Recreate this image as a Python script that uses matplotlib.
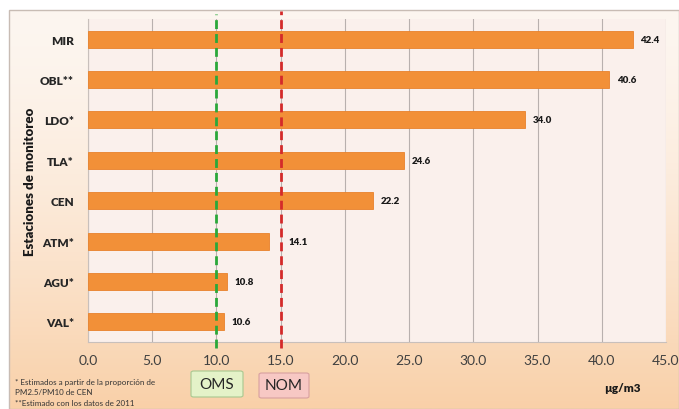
import numpy as np
import matplotlib.pyplot as plt
from matplotlib.patches import FancyBboxPatch, Rectangle

plt.rcParams['font.family'] = ['Lato', 'DejaVu Sans']

# PM2.5 annual average per monitoring station
estaciones = ['MIR', 'OBL**', 'LDO*', 'TLA*', 'CEN', 'ATM*', 'AGU*', 'VAL*']
valores = [42.4, 40.6, 34.0, 24.6, 22.2, 14.1, 10.8, 10.6]
limite_oms = 10.0
limite_nom = 15.0
xticks = np.arange(0, 50, 5)

fig = plt.figure(figsize=(6.79, 4.10), dpi=100)
fig.patch.set_facecolor('white')

# peach gradient panel behind everything
bg = fig.add_axes([9 / 679, 0, 1 - 9 / 679, 1 - 11 / 410])
grad = np.linspace(0, 1, 256).reshape(-1, 1)
top = np.array([253, 246, 240]) / 255
bottom = np.array([249, 208, 168]) / 255
img = top + (bottom - top) * grad[..., None] ** 1.5
bg.imshow(img, aspect='auto', extent=[0, 1, 0, 1], origin='upper')
bg.set_axis_off()
bg.add_patch(Rectangle((0, 0), 1, 1, transform=bg.transAxes, fill=False,
                       edgecolor='#c8bcb4', lw=1.0, clip_on=False))

ax = fig.add_axes([88 / 679, 1 - 343 / 410, (666 - 88) / 679, (343 - 20) / 410])
ax.set_facecolor('#faf0ec')

y = np.arange(len(estaciones))
bars = ax.barh(y, valores, height=0.42, color='#f29038', edgecolor='#e8822c', lw=0.6, zorder=3)
ax.set_ylim(len(estaciones) - 0.5, -0.5)
ax.set_xlim(0, 45)

for rect, v in zip(bars, valores):
    xl = v + 0.6
    # keep the label clear of the NOM line
    if v < limite_nom < v + 2.5:
        xl = limite_nom + 0.6
    ax.text(xl, rect.get_y() + rect.get_height() / 2, '%.1f' % v,
            va='center', ha='left', fontsize=7, fontweight='heavy', color='#1a1a1a')

# reference limits
ax.plot([limite_oms, limite_oms], [-0.02, 1.015], transform=ax.get_xaxis_transform(),
        color='#2aa83a', lw=2, ls=(0, (3.2, 1.8)), clip_on=False, zorder=4)
ax.plot([limite_nom, limite_nom], [-0.02, 1.025], transform=ax.get_xaxis_transform(),
        color='#d42a2a', lw=2, ls=(0, (3.2, 1.8)), clip_on=False, zorder=4)

ax.set_xticks(xticks)
ax.set_xticklabels(['%.1f' % t for t in xticks], fontsize=10, color='#404040')
ax.set_yticks(y)
ax.set_yticklabels(estaciones, fontsize=8.5, fontweight='heavy', color='#262626')
ax.tick_params(length=0, pad=9)
ax.tick_params(axis='y', pad=10)
ax.grid(axis='x', color='#b8b0ae', lw=0.8, zorder=0)
for s in ['top', 'right']:
    ax.spines[s].set_visible(False)
for s in ['left', 'bottom']:
    ax.spines[s].set_color('#c8c0bc')
    ax.spines[s].set_linewidth(0.8)

fig.text(30 / 679, 1 - 182 / 410, 'Estaciones de monitoreo', rotation=90,
         ha='center', va='center', fontsize=9.5, fontweight='heavy', color='#1a1a1a')

# footnotes
notas = ['* Estimados a partir de la proporción de', 'PM2.5/PM10 de CEN',
         '**Estimado con los datos de 2011']
for txt, yp in zip(notas, [383, 393, 404]):
    fig.text(15 / 679, 1 - yp / 410, txt, fontsize=5.8, color='#333333', va='center')

# limit legend boxes
for x0, x1, y0, y1, fc, ec, txt in [(191, 243, 372, 398, '#e4f2c8', '#a8c890', 'OMS'),
                                    (259, 309, 374, 399, '#f7c8c4', '#d8a0a0', 'NOM')]:
    box = FancyBboxPatch((x0 / 679, 1 - y1 / 410), (x1 - x0) / 679, (y1 - y0) / 410,
                         boxstyle='round,pad=0,rounding_size=0.004', transform=fig.transFigure,
                         facecolor=fc, edgecolor=ec, lw=0.8)
    fig.add_artist(box)
    fig.text((x0 + x1) / 2 / 679, 1 - (y0 + y1) / 2 / 410, txt, ha='center', va='center',
             fontsize=11, color='#262626')

fig.text(622 / 679, 1 - 389 / 410, 'µg/m3', ha='center', va='center',
         fontsize=8.5, fontweight='heavy', color='#1a1a1a')

fig.savefig('out.png', dpi=100)
